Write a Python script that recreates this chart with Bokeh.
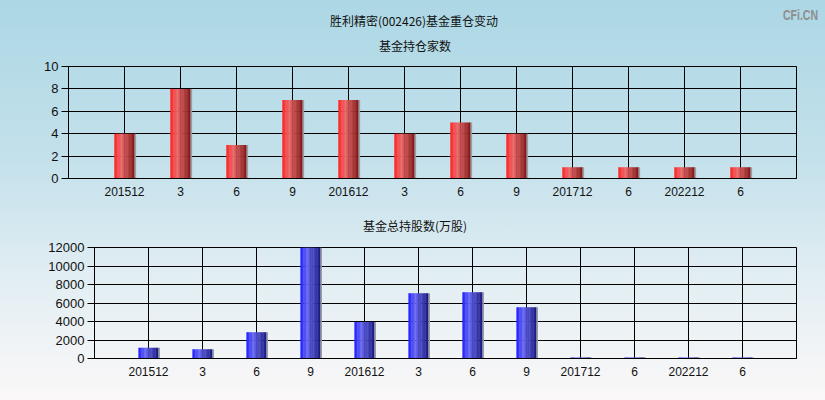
from bokeh.plotting import figure
from bokeh.models import Range1d, FixedTicker, ColumnDataSource, Div
from bokeh.embed import file_html
from bokeh.resources import INLINE

# ---- data ----
categories = ["201512", "3", "6", "9", "201612", "3", "6", "9", "201712", "6", "202212", "6"]
fund_counts = [4, 8, 3, 7, 7, 4, 5, 4, 1, 1, 1, 1]
total_shares = [1150, 1000, 2850, 12000, 3950, 7050, 7150, 5550, 100, 100, 100, 100]
count_ticks = [0, 2, 4, 6, 8, 10]
share_ticks = [0, 2000, 4000, 6000, 8000, 10000, 12000]

main_title = "胜利精密(002426)基金重仓变动"
top_title = "基金持仓家数"
bottom_title = "基金总持股数(万股)"
logo_text = "CFi.CN"

RED_STOPS = [(0.0, (255, 36, 36)), (0.35, (236, 104, 104)), (1.0, (128, 22, 22))]
BLUE_STOPS = [(0.0, (30, 30, 255)), (0.35, (104, 104, 240)), (1.0, (24, 24, 128))]

CJK = "Noto Sans CJK SC"
LAT = "Liberation Sans"
W = 825


def interp(stops, t):
    for (t0, c0), (t1, c1) in zip(stops, stops[1:]):
        if t0 <= t <= t1:
            f = (t - t0) / (t1 - t0)
            r, g, b = (round(a + (bb - a) * f) for a, bb in zip(c0, c1))
            return "#%02x%02x%02x" % (r, g, b)
    r, g, b = stops[-1][1]
    return "#%02x%02x%02x" % (r, g, b)


def gradient_bars(p, values, stops, w):
    n = 14
    xs, tops, cols = [], [], []
    for i, v in enumerate(values):
        c = i + 1
        for k in range(n):
            t = (k + 0.5) / n
            xs.append(c - w / 2 + t * w)
            tops.append(v)
            cols.append(interp(stops, t))
    src = ColumnDataSource(dict(x=xs, top=tops, color=cols))
    p.vbar(x="x", top="top", bottom=0, width=w / n * 1.2, fill_color="color",
           line_color=None, source=src)
    sx = [i + 1 + w / 2 + 0.014 for i in range(len(values))]
    p.vbar(x=sx, top=values, bottom=0, width=0.028, fill_color="#9c9ca4", line_color=None)


def text_div(text, left, top, width, size="12px", family=CJK, color="#111111"):
    st = {"position": "absolute", "left": f"{left}px", "top": f"{top}px",
          "width": f"{width}px", "text-align": "center", "font-family": family,
          "font-size": size, "line-height": "16px", "color": color,
          "white-space": "nowrap", "z-index": "10"}
    return Div(text=text, width=width, height=16, styles=st)


def base_fig(height, left, top, bottom, yr, yticks, bg):
    p = figure(width=W, height=height, output_backend="svg", toolbar_location=None,
               x_range=Range1d(0, len(categories) + 1), y_range=Range1d(*yr),
               min_border_left=left, min_border_right=29, min_border_top=top,
               min_border_bottom=bottom, styles={"background": bg})
    p.background_fill_alpha = 0
    p.border_fill_alpha = 0
    p.outline_line_color = "black"
    p.outline_line_width = 1
    p.xaxis.ticker = FixedTicker(ticks=list(range(1, len(categories) + 1)))
    p.xaxis.major_label_overrides = {i + 1: c for i, c in enumerate(categories)}
    p.yaxis.ticker = FixedTicker(ticks=yticks)
    for ax in (p.xaxis[0], p.yaxis[0]):
        ax.axis_line_color = "black"
        ax.major_tick_line_color = "black"
        ax.minor_tick_line_color = None
        ax.major_tick_in = 0
        ax.major_label_text_font = LAT
        ax.major_label_text_color = "#111111"
    p.xaxis.major_tick_out = 0
    p.xaxis.major_label_standoff = 8
    p.xaxis.major_label_text_font_size = "12px"
    p.yaxis.major_tick_out = 7
    p.yaxis.major_label_standoff = 3
    p.yaxis.major_label_text_font_size = "13px"
    for g in (p.xgrid[0], p.ygrid[0]):
        g.grid_line_color = "black"
        g.grid_line_width = 1
        g.grid_line_alpha = 1
    return p


# ---- top figure ----
p1 = base_fig(200, 68, 66, 22, (0, 10), count_ticks,
              "linear-gradient(to bottom, #acd7e5 0%, #c4e1eb 80%, #cee5ee 100%)")
gradient_bars(p1, fund_counts, RED_STOPS, 0.36)

# ---- bottom figure ----
p2 = base_fig(200, 94, 47, 42, (0, 12000), share_ticks,
              "linear-gradient(to bottom, #cee5ee 0%, #e2eef3 40%, #fbf8f8 100%)")
gradient_bars(p2, total_shares, BLUE_STOPS, 0.37)

d_main = text_div(main_title, 259, 8, 300)
d_top = text_div(top_title, 310, 33, 200)
d_bottom = text_div(bottom_title, 310, 213, 200)
d_logo = Div(text=logo_text, width=60, height=18,
             styles={"position": "absolute", "left": "778px", "top": "2px",
                     "font-family": LAT, "font-size": "15px", "font-weight": "bold",
                     "line-height": "15px", "color": "#8e8e8e", "white-space": "nowrap",
                     "transform": "scaleX(0.7)", "transform-origin": "left top",
                     "z-index": "10"})

open("out.html", "w").write(file_html([p1, p2, d_main, d_top, d_bottom, d_logo], INLINE))
